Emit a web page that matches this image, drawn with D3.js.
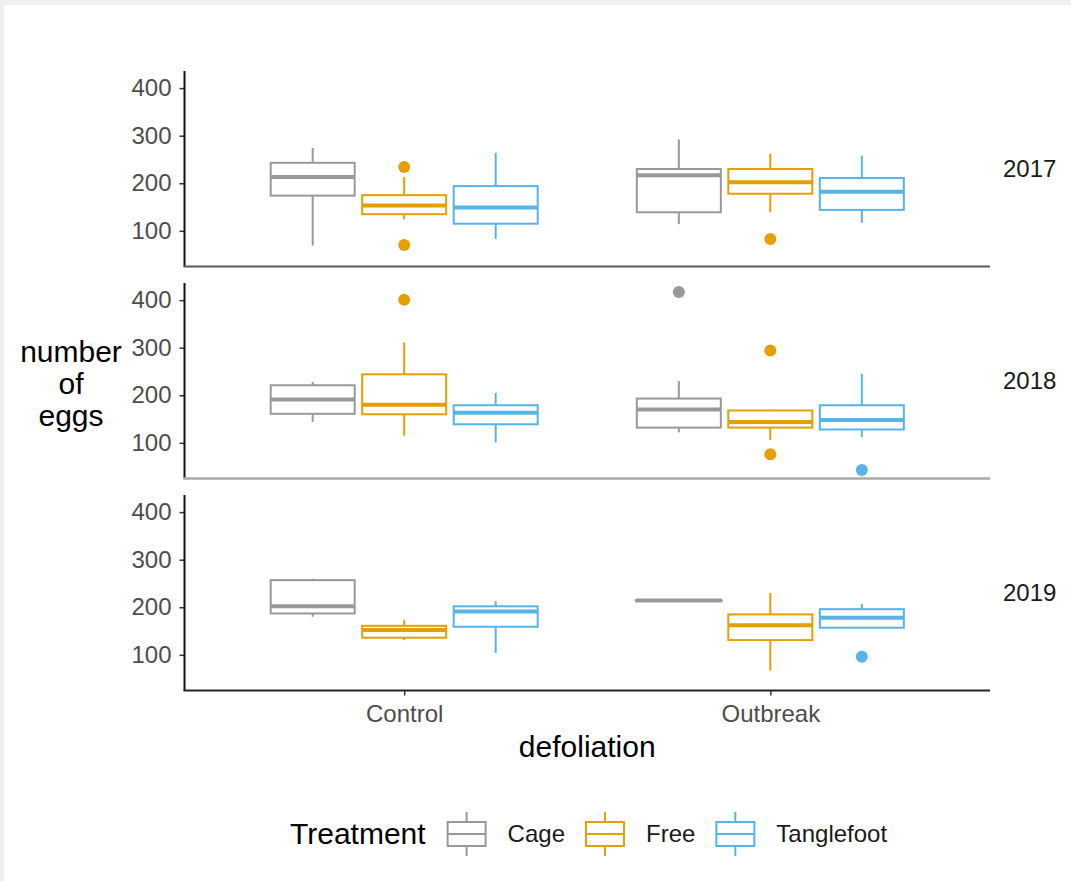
<!DOCTYPE html>
<html>
<head>
<meta charset="utf-8">
<script src="https://cdn.jsdelivr.net/npm/d3@7"></script>
<style>
  body { margin: 0; background: #f0f0f0; }
  svg { display: block; font-family: "Liberation Sans", Arial, sans-serif; }
</style>
</head>
<body>
<div id="chart"></div>
<script>
// facets, groups, treatments
var years = ["2017", "2018", "2019"];
var defoliation = ["Control", "Outbreak"];
var treatments = ["Cage", "Free", "Tanglefoot"];
var colors = ["#999999", "#E69F00", "#56B4E9"];
var yTicks = [100, 200, 300, 400];

// box stats per year: [lower whisker, q1, median, q3, upper whisker]
// order: Control Cage, Control Free, Control Tanglefoot, Outbreak Cage, Outbreak Free, Outbreak Tanglefoot
var box2017 = [
  [69, 174, 213, 243, 274],
  [124, 135, 153, 175, 213],
  [83, 115, 149, 194, 264],
  [114, 139, 217, 230, 292],
  [139, 178, 202, 230, 262],
  [117, 144, 182, 211, 258]
];
var box2018 = [
  [144, 161, 191, 221, 228],
  [115, 160, 180, 244, 311],
  [101, 139, 163, 179, 205],
  [122, 132, 170, 193, 230],
  [106, 132, 144, 168, 170],
  [112, 128, 148, 179, 245]
];
var box2019 = [
  [180, 187, 202, 257, 260],
  [131, 136, 152, 161, 173],
  [104, 159, 191, 202, 213],
  [214, 214, 214, 214, 214],
  [67, 131, 162, 185, 230],
  [157, 157, 178, 196, 207]
];
var out2017 = [[], [234, 70], [], [], [83], []];
var out2018 = [[], [401], [], [417], [294, 76], [43]];
var out2019 = [[], [], [], [], [], [96]];

var boxes = [box2017, box2018, box2019];
var outliers = [out2017, out2018, out2019];

var width = 1071, height = 881;
var left = 184.5, right = 990;
var panelTop = [71, 283, 495];
var panelH = 195.5;
var bottomLine = ["#5a5a5a", "#aaaaaa", "#222222"];

var svg = d3.select("#chart").append("svg")
  .attr("width", width)
  .attr("height", height);

// white card
svg.append("rect")
  .attr("x", 4).attr("y", 5)
  .attr("width", width - 4).attr("height", height - 5)
  .attr("fill", "#ffffff");

var xScale = d3.scalePoint()
  .domain(defoliation)
  .range([left, right])
  .padding(0.6);

var dodge = d3.scalePoint()
  .domain(treatments)
  .range([-91.5, 91.5]);

var boxW = 84;

years.forEach(function(year, p) {
  var top = panelTop[p];
  var yScale = d3.scaleLinear()
    .domain([25, 436])
    .range([top + panelH, top]);

  var g = svg.append("g");

  // y axis
  var yAxis = d3.axisLeft(yScale).tickValues(yTicks).tickSize(5).tickPadding(8);
  var ya = g.append("g")
    .attr("transform", "translate(" + left + ",0)")
    .call(yAxis);
  ya.select(".domain").remove();
  ya.selectAll(".tick line").attr("stroke", "#333").attr("stroke-width", 1.5);
  ya.selectAll(".tick text")
    .attr("fill", "#4d4d4d")
    .style("font-size", "24px")
    .style("font-family", "Liberation Sans, Arial, sans-serif");

  g.append("line")
    .attr("x1", left).attr("x2", left)
    .attr("y1", top).attr("y2", top + panelH)
    .attr("stroke", "#111").attr("stroke-width", 2);

  g.append("line")
    .attr("x1", left - 1).attr("x2", right)
    .attr("y1", top + panelH).attr("y2", top + panelH)
    .attr("stroke", bottomLine[p]).attr("stroke-width", p === 1 ? 2.5 : 2);

  // boxes
  boxes[p].forEach(function(s, i) {
    var grp = defoliation[Math.floor(i / 3)];
    var tr = treatments[i % 3];
    var col = colors[i % 3];
    var cx = xScale(grp) + dodge(tr);

    g.append("line")
      .attr("x1", cx).attr("x2", cx)
      .attr("y1", yScale(s[3])).attr("y2", yScale(s[4]))
      .attr("stroke", col).attr("stroke-width", 2);
    g.append("line")
      .attr("x1", cx).attr("x2", cx)
      .attr("y1", yScale(s[1])).attr("y2", yScale(s[0]))
      .attr("stroke", col).attr("stroke-width", 2);
    g.append("rect")
      .attr("x", cx - boxW / 2)
      .attr("y", yScale(s[3]))
      .attr("width", boxW)
      .attr("height", yScale(s[1]) - yScale(s[3]))
      .attr("fill", "white")
      .attr("stroke", col).attr("stroke-width", 2);
    g.append("line")
      .attr("x1", cx - boxW / 2).attr("x2", cx + boxW / 2)
      .attr("y1", yScale(s[2])).attr("y2", yScale(s[2]))
      .attr("stroke", col).attr("stroke-width", 4)
      .attr("stroke-linecap", s[1] === s[3] ? "round" : "butt");

    g.selectAll(null)
      .data(outliers[p][i])
      .enter()
      .append("circle")
      .attr("cx", cx)
      .attr("cy", function(d) { return yScale(d); })
      .attr("r", 6)
      .attr("fill", col);
  });

  // facet label
  g.append("text")
    .attr("x", 1003)
    .attr("y", top + panelH / 2 + 8)
    .attr("fill", "#1a1a1a")
    .style("font-size", "24px")
    .text(year);
});

// x axis ticks on bottom panel
var xBase = panelTop[2] + panelH;
var xAxis = d3.axisBottom(xScale).tickSize(5).tickPadding(9);
var xa = svg.append("g")
  .attr("transform", "translate(0," + xBase + ")")
  .call(xAxis);
xa.select(".domain").remove();
xa.selectAll(".tick line").attr("stroke", "#333").attr("stroke-width", 1.5);
xa.selectAll(".tick text")
  .attr("fill", "#4d4d4d")
  .style("font-size", "24px")
  .style("font-family", "Liberation Sans, Arial, sans-serif");

// axis titles
svg.append("text")
  .attr("x", (left + right) / 2)
  .attr("y", 757)
  .attr("text-anchor", "middle")
  .style("font-size", "30px")
  .text("defoliation");

var yTitle = ["number", "of", "eggs"];
svg.selectAll(".ytitle")
  .data(yTitle)
  .enter()
  .append("text")
  .attr("class", "ytitle")
  .attr("x", 71)
  .attr("y", function(d, i) { return 362 + i * 32; })
  .attr("text-anchor", "middle")
  .style("font-size", "30px")
  .text(function(d) { return d; });

// legend
var legend = svg.append("g");
var ly = 834;
var lt = legend.append("text")
  .attr("x", 290)
  .attr("y", ly + 10)
  .style("font-size", "30px")
  .text("Treatment");
var lx = 290 + lt.node().getComputedTextLength() + 22;

treatments.forEach(function(t, i) {
  var kx = lx + 19;
  legend.append("line")
    .attr("x1", kx).attr("x2", kx)
    .attr("y1", ly - 22).attr("y2", ly + 22)
    .attr("stroke", colors[i]).attr("stroke-width", 2);
  legend.append("rect")
    .attr("x", lx).attr("y", ly - 12)
    .attr("width", 38).attr("height", 24)
    .attr("fill", "white")
    .attr("stroke", colors[i]).attr("stroke-width", 2);
  legend.append("line")
    .attr("x1", lx).attr("x2", lx + 38)
    .attr("y1", ly).attr("y2", ly)
    .attr("stroke", colors[i]).attr("stroke-width", 2);
  var txt = legend.append("text")
    .attr("x", lx + 60)
    .attr("y", ly + 8)
    .attr("fill", "#1a1a1a")
    .style("font-size", "24px")
    .text(t);
  lx = lx + 60 + txt.node().getComputedTextLength() + 21;
});
</script>
</body>
</html>
